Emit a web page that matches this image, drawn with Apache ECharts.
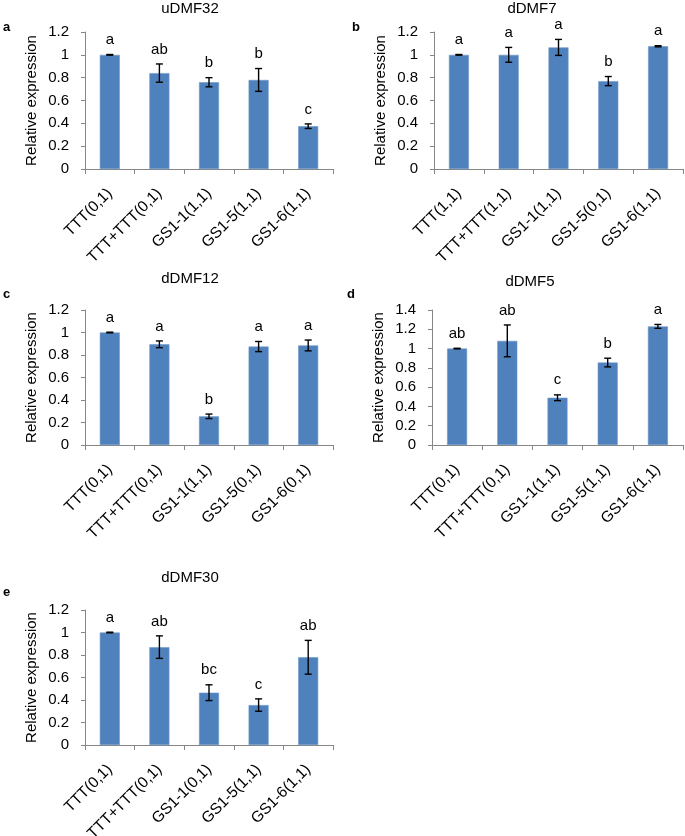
<!DOCTYPE html>
<html>
<head>
<meta charset="utf-8">
<script src="https://cdn.jsdelivr.net/npm/echarts@6/dist/echarts.min.js"></script>
<style>
html,body{margin:0;padding:0;background:#fff;}
#chart{width:685px;height:836px;}
</style>
</head>
<body>
<div id="chart"></div>
<script>
// ---- data ----
const catsA = ['TTT(0,1)', 'TTT+TTT(0,1)', 'GS1-1(1,1)', 'GS1-5(1,1)', 'GS1-6(1,1)'];
const valsA = [1.0, 0.84, 0.76, 0.78, 0.375];
const errsA = [0.003, 0.08, 0.04, 0.10, 0.02];
const lettersA = ['a', 'ab', 'b', 'b', 'c'];

const catsB = ['TTT(1,1)', 'TTT+TTT(1,1)', 'GS1-1(1,1)', 'GS1-5(0,1)', 'GS1-6(1,1)'];
const valsB = [1.0, 1.0, 1.065, 0.77, 1.075];
const errsB = [0.003, 0.065, 0.07, 0.04, 0.005];
const lettersB = ['a', 'a', 'a', 'b', 'a'];

const catsC = ['TTT(0,1)', 'TTT+TTT(0,1)', 'GS1-1(1,1)', 'GS1-5(0,1)', 'GS1-6(0,1)'];
const valsC = [1.0, 0.895, 0.255, 0.875, 0.885];
const errsC = [0.003, 0.03, 0.02, 0.045, 0.048];
const lettersC = ['a', 'a', 'b', 'a', 'a'];

const catsD = ['TTT(0,1)', 'TTT+TTT(0,1)', 'GS1-1(1,1)', 'GS1-5(1,1)', 'GS1-6(1,1)'];
const valsD = [1.0, 1.08, 0.49, 0.855, 1.23];
const errsD = [0.003, 0.165, 0.03, 0.045, 0.02];
const lettersD = ['ab', 'ab', 'c', 'b', 'a'];

const catsE = ['TTT(0,1)', 'TTT+TTT(0,1)', 'GS1-1(0,1)', 'GS1-5(1,1)', 'GS1-6(1,1)'];
const valsE = [1.0, 0.87, 0.465, 0.355, 0.78];
const errsE = [0.003, 0.10, 0.07, 0.055, 0.15];
const lettersE = ['a', 'ab', 'bc', 'c', 'ab'];

const titles = ['uDMF32', 'dDMF7', 'dDMF12', 'dDMF5', 'dDMF30'];
const panelTags = ['a', 'b', 'c', 'd', 'e'];
const yMaxes = [1.2, 1.2, 1.2, 1.4, 1.2];

// ---- layout ----
const FONT = '"Liberation Sans", Arial, sans-serif';
const panels = [
  {cats: catsA, vals: valsA, errs: errsA, letters: lettersA, grid: {left: 85, top: 32, width: 248, height: 137}, title: [190, 1], tag: [3, 21]},
  {cats: catsB, vals: valsB, errs: errsB, letters: lettersB, grid: {left: 434, top: 32, width: 249, height: 137}, title: [532, 1], tag: [352, 21]},
  {cats: catsC, vals: valsC, errs: errsC, letters: lettersC, grid: {left: 85, top: 310, width: 248, height: 135}, title: [190, 271], tag: [3, 288]},
  {cats: catsD, vals: valsD, errs: errsD, letters: lettersD, grid: {left: 432, top: 310, width: 251, height: 135}, title: [530, 274], tag: [347, 288]},
  {cats: catsE, vals: valsE, errs: errsE, letters: lettersE, grid: {left: 85, top: 610, width: 248, height: 135}, title: [190, 570], tag: [3, 586]}
];

const chart = echarts.init(document.getElementById('chart'));
const option = {
  backgroundColor: '#fff',
  animation: false,
  textStyle: {fontFamily: FONT},
  title: [], grid: [], xAxis: [], yAxis: [], series: []
};

panels.forEach((p, i) => {
  option.title.push({
    text: titles[i], left: p.title[0], top: p.title[1], textAlign: 'center', padding: 0,
    textStyle: {fontSize: 15, fontWeight: 'normal', color: '#000', fontFamily: FONT}
  });
  option.title.push({
    text: panelTags[i], left: p.tag[0], top: p.tag[1], padding: 0,
    textStyle: {fontSize: 13, fontWeight: 'bold', color: '#000', fontFamily: FONT}
  });
  option.grid.push(Object.assign({containLabel: false, outerBoundsMode: 'none'}, p.grid));
  option.xAxis.push({
    type: 'category', gridIndex: i, data: p.cats, boundaryGap: true,
    axisLine: {lineStyle: {color: '#868686', width: 1}},
    axisTick: {show: true, length: 5, lineStyle: {color: '#868686'}},
    axisLabel: {rotate: 45, interval: 0, margin: 22, fontSize: 15.5, color: '#000', fontFamily: FONT},
    splitLine: {show: false}
  });
  option.yAxis.push({
    type: 'value', gridIndex: i, min: 0, max: yMaxes[i], interval: 0.2,
    name: 'Relative expression', nameLocation: 'middle', nameGap: 46, nameRotate: 90,
    nameTextStyle: {fontSize: 15, color: '#000', fontFamily: FONT},
    axisLine: {show: true, lineStyle: {color: '#868686', width: 1}},
    axisTick: {show: true, length: 4, lineStyle: {color: '#868686'}},
    axisLabel: {margin: 16, fontSize: 15, color: '#000', fontFamily: FONT},
    splitLine: {show: false}
  });
  option.series.push({
    type: 'bar', xAxisIndex: i, yAxisIndex: i, data: p.vals, barWidth: 20,
    itemStyle: {color: '#4F81BD', borderColor: '#6E97C8', borderWidth: 0.6}
  });
  const letters = p.letters;
  option.series.push({
    type: 'custom', xAxisIndex: i, yAxisIndex: i,
    data: p.vals.map((v, k) => [k, v, p.errs[k]]),
    encode: {x: 0, y: 1},
    z: 5,
    renderItem: function (params, api) {
      const x = api.value(0), v = api.value(1), e = api.value(2);
      const top = api.coord([x, v + e]);
      const bot = api.coord([x, v - e]);
      const cap = 3.5;
      const st = {stroke: '#000', lineWidth: 1.4};
      return {
        type: 'group',
        children: [
          {type: 'line', shape: {x1: top[0], y1: top[1], x2: bot[0], y2: bot[1]}, style: st},
          {type: 'line', shape: {x1: top[0] - cap, y1: top[1], x2: top[0] + cap, y2: top[1]}, style: st},
          {type: 'line', shape: {x1: bot[0] - cap, y1: bot[1], x2: bot[0] + cap, y2: bot[1]}, style: st},
          {type: 'text', style: {
            text: letters[params.dataIndex], x: top[0], y: top[1] - 7,
            align: 'center', verticalAlign: 'bottom',
            font: '15px ' + FONT, fill: '#000'
          }}
        ]
      };
    }
  });
});

chart.setOption(option);
</script>
</body>
</html>
